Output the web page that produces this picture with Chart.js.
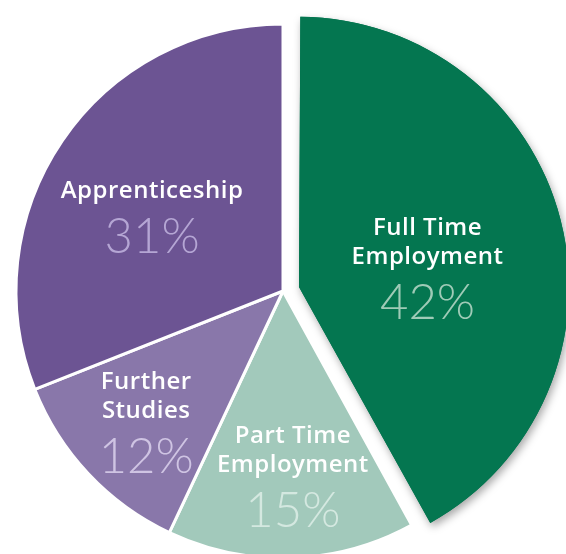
<!DOCTYPE html>
<html>
<head>
<meta charset="utf-8">
<script src="https://cdn.jsdelivr.net/npm/chart.js@4/dist/chart.umd.min.js"></script>
<style>
    html, body { margin: 0; padding: 0; background: #ffffff; overflow: hidden; }
    #wrap { position: relative; width: 566px; height: 554px; }
</style>
</head>
<body>
<div id="wrap"><canvas id="chart" width="566" height="554"></canvas></div>
<script>
// Chart data
const categories = [['Full Time', 'Employment'], ['Part Time', 'Employment'], ['Further', 'Studies'], ['Apprenticeship']];
const shares = [42, 15, 12, 31];
const percentLabels = ['42%', '15%', '12%', '31%'];

const sliceColors = ['#047650', '#a2c9bb', '#8977aa', '#6c5493'];
const percentColors = ['#9fcbb7', '#d4e8e0', '#cfc4e3', '#b5a6d4'];

// chart.js grows an offset arc's radius a bit; take most of that back
const trimPlugin = {
    id: 'offsetTrim',
    afterDatasetUpdate(chart, args, opts) {
        const arc = chart.getDatasetMeta(0).data[0];
        if (arc) arc.outerRadius -= opts.amount;
    }
};

// Draws a soft shadow under the pulled-out slice
const shadowPlugin = {
    id: 'sliceShadow',
    beforeDatasetDraw(chart) {
        const arc = chart.getDatasetMeta(0).data[0];
        if (!arc) return;
        const ctx = chart.ctx;
        ctx.save();
        ctx.shadowColor = 'rgba(0, 0, 0, 0.35)';
        ctx.shadowBlur = 9;
        ctx.shadowOffsetX = 2;
        ctx.shadowOffsetY = 4;
        arc.draw(ctx);
        ctx.restore();
    }
};

// Writes the category name and percentage inside each slice
const sliceLabels = {
    id: 'sliceLabels',
    afterDatasetDraw(chart, args, opts) {
        const ctx = chart.ctx;
        const meta = chart.getDatasetMeta(0);
        meta.data.forEach((arc, i) => {
            const p = arc.getProps(['x', 'y', 'startAngle', 'endAngle'], true);
            const mid = (p.startAngle + p.endAngle) / 2;
            // chart.js moves an offset arc by a quarter of its offset value
            const shift = (arc.options.offset || 0) / 4;
            const ox = p.x + Math.cos(mid) * shift;
            const oy = p.y + Math.sin(mid) * shift;
            const ang = p.startAngle + (p.endAngle - p.startAngle) * opts.angle[i];
            const dist = chart.options.radius * opts.radius[i];
            const cx = ox + Math.cos(ang) * dist;
            const cy = oy + Math.sin(ang) * dist;

            const lines = categories[i];
            const span = opts.lineGap * (lines.length - 1) + opts.pctGap;
            const y = cy - span / 2;

            ctx.save();
            ctx.textAlign = 'center';
            ctx.textBaseline = 'middle';
            ctx.fillStyle = '#ffffff';
            ctx.font = '600 24px "Open Sans"';
            ctx.letterSpacing = '0.5px';
            lines.forEach((line, k) => {
                ctx.fillText(line, cx, y + k * opts.lineGap);
            });
            ctx.letterSpacing = '0px';
            ctx.font = '300 49px Lato';
            ctx.fillStyle = percentColors[i];
            ctx.fillText(percentLabels[i], cx, y + opts.lineGap * (lines.length - 1) + opts.pctGap);
            ctx.restore();
        });
    }
};

const ctx = document.getElementById('chart').getContext('2d');
const chart = new Chart(ctx, {
    type: 'pie',
    data: {
        labels: categories.map(c => c.join(' ')),
        datasets: [{
            data: shares,
            backgroundColor: sliceColors,
            borderColor: '#ffffff',
            borderWidth: [0, 3, 3, 3],
            offset: [66, 0, 0, 0],
            hoverOffset: 0,
            clip: false
        }]
    },
    options: {
        responsive: false,
        animation: false,
        events: [],
        radius: 267,
        layout: { padding: { top: 28, left: 0, right: 0, bottom: 0 } },
        plugins: {
            legend: { display: false },
            tooltip: { enabled: false },
            offsetTrim: { amount: 5.5 },
            sliceLabels: {
                angle: [0.533, 0.476, 0.5, 0.465],
                radius: [0.488, 0.686, 0.703, 0.568],
                lineGap: 29,
                pctGap: 46
            }
        }
    },
    plugins: [trimPlugin, shadowPlugin, sliceLabels]
});
</script>
</body>
</html>
